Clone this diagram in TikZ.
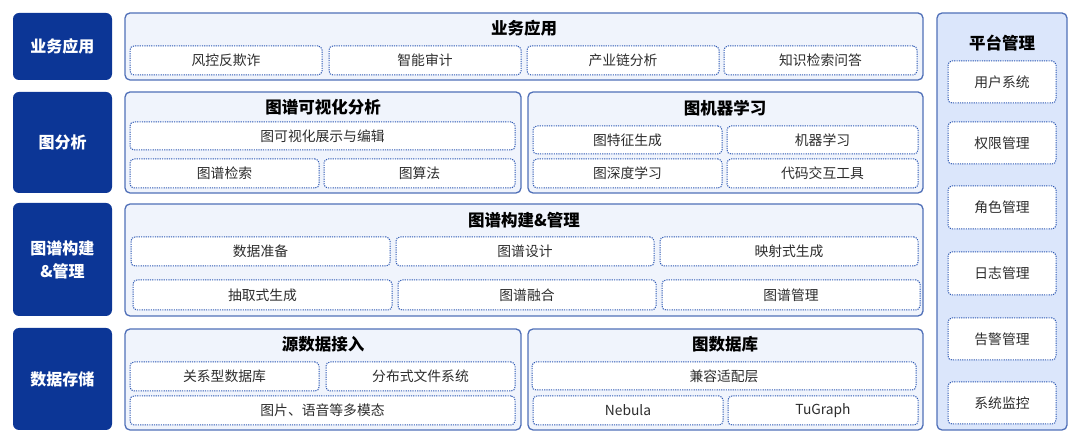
\documentclass[tikz,border=0pt]{standalone}
\usepackage{fontspec}
\setmainfont{Noto Sans CJK SC}
\definecolor{navy}{RGB}{12,54,150}
\definecolor{panelfill}{RGB}{240,244,252}
\definecolor{panelline}{RGB}{80,112,184}
\definecolor{mgmtfill}{RGB}{219,230,251}
\definecolor{itemline}{RGB}{45,88,180}
\definecolor{itemtext}{RGB}{45,45,45}
\tikzset{
  lab/.style={fill=navy, draw=none, rounded corners=6pt, text=white, font=\fontsize{16}{19}\selectfont\bfseries, align=center, inner sep=0pt, outer sep=0pt},
  panel/.style={fill=panelfill, draw=panelline, line width=1.3pt, rounded corners=5pt, inner sep=0pt, outer sep=0pt},
  mgmt/.style={fill=mgmtfill, draw=panelline, line width=1.3pt, rounded corners=5pt, inner sep=0pt, outer sep=0pt},
  item/.style={fill=white, draw=itemline, line width=1pt, dash pattern=on 1.2pt off 1.1pt, rounded corners=4pt, text=itemtext, font=\fontsize{13.8}{16}\selectfont, inner sep=0pt, outer sep=0pt},
  ttl/.style={font=\fontsize{16.5}{19}\selectfont\bfseries, text=black, inner sep=0pt}
}
\newcommand\bx[7]{\node[#6, minimum width={#4-#2}, minimum height={#5-#3}] (#1) at ({(#2+#4)/2},{(#3+#5)/2}) {#7};}
\begin{document}
\begin{tikzpicture}[x=1pt,y=-1pt]
\useasboundingbox (0,0) rectangle (1080,443);
% left labels
\bx{l1}{13}{13}{112}{80}{lab}{业务应用}
\bx{l2}{13}{92}{112}{193}{lab}{图分析}
\bx{l3}{13}{203}{112}{316}{lab}{图谱构建\\[4pt]\&管理}
\bx{l4}{13}{328}{112}{430}{lab}{数据存储}
% row 1
\bx{p1}{125}{13}{923}{80}{panel}{}
\node[ttl] (t1) at (524,28) {业务应用};
\bx{a1}{130}{46}{322}{75}{item}{风控反欺诈}
\bx{a2}{329}{46}{521}{75}{item}{智能审计}
\bx{a3}{527}{46}{719}{75}{item}{产业链分析}
\bx{a4}{724}{46}{917}{75}{item}{知识检索问答}
% row 2
\bx{p2}{125}{92}{521}{193}{panel}{}
\node[ttl] (t2) at (323,107) {图谱可视化分析};
\bx{b1}{130}{122}{515}{150}{item}{图可视化展示与编辑}
\bx{b2}{130}{159}{319}{188}{item}{图谱检索}
\bx{b3}{324}{159}{515}{188}{item}{图算法}
\bx{p3}{528}{92}{923}{193}{panel}{}
\node[ttl] (t3) at (725,108) {图机器学习};
\bx{c1}{533}{126}{722}{154}{item}{图特征生成}
\bx{c2}{727}{126}{918}{154}{item}{机器学习}
\bx{c3}{533}{159}{722}{188}{item}{图深度学习}
\bx{c4}{727}{159}{918}{188}{item}{代码交互工具}
% row 3
\bx{p4}{125}{204}{923}{316}{panel}{}
\node[ttl] (t4) at (524,220) {图谱构建\&管理};
\bx{d1}{131}{237}{390}{266}{item}{数据准备}
\bx{d2}{396}{237}{654}{266}{item}{图谱设计}
\bx{d3}{660}{237}{918}{266}{item}{映射式生成}
\bx{d4}{133}{280}{392}{310}{item}{抽取式生成}
\bx{d5}{398}{280}{656}{310}{item}{图谱融合}
\bx{d6}{662}{280}{920}{310}{item}{图谱管理}
% row 4
\bx{p5}{125}{329}{521}{430}{panel}{}
\node[ttl] (t5) at (323,344) {源数据接入};
\bx{e1}{130}{362}{319}{391}{item}{关系型数据库}
\bx{e2}{326}{362}{515}{391}{item}{分布式文件系统}
\bx{e3}{130}{396}{515}{425}{item}{图片、语音等多模态}
\bx{p6}{528}{329}{923}{430}{panel}{}
\node[ttl] (t6) at (725,344) {图数据库};
\bx{f1}{532}{362}{916}{390}{item}{兼容适配层}
\bx{f2}{533}{396}{723}{425}{item}{Nebula}
\bx{f3}{728}{396}{918}{425}{item}{TuGraph}
% platform management
\bx{m0}{937}{13}{1067}{430}{mgmt}{}
\node[ttl] (tm) at (1002,43) {平台管理};
\bx{m1}{948}{61}{1056}{103}{item}{用户系统}
\bx{m2}{948}{122}{1056}{164}{item}{权限管理}
\bx{m3}{948}{186}{1056}{229}{item}{角色管理}
\bx{m4}{948}{252}{1056}{295}{item}{日志管理}
\bx{m5}{948}{318}{1056}{360}{item}{告警管理}
\bx{m6}{948}{382}{1056}{424}{item}{系统监控}
\end{tikzpicture}
\end{document}
